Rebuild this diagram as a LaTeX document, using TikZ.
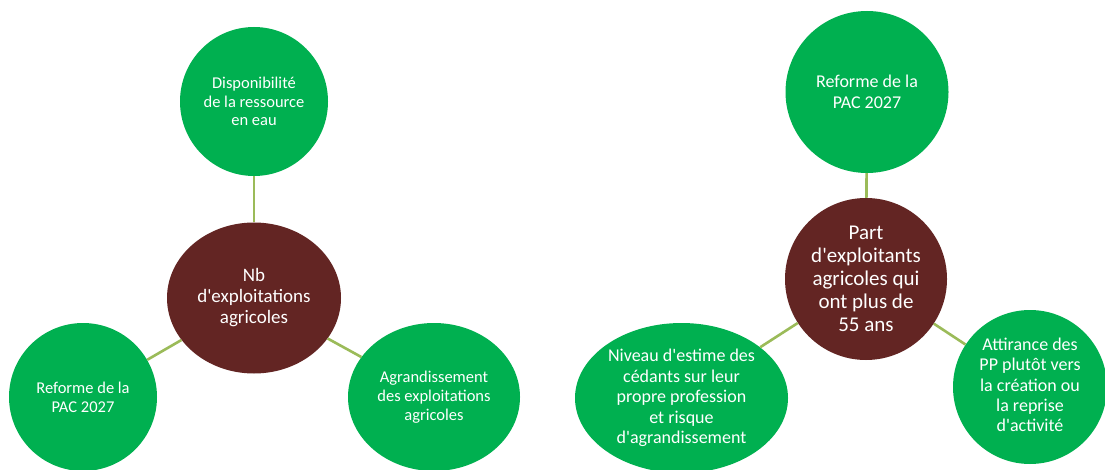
\documentclass[tikz,border=0pt]{standalone}
\usepackage{fontspec}
\setmainfont{Carlito}[Ligatures=TeXOff]
\usetikzlibrary{shapes.geometric}
\definecolor{cgreen}{HTML}{00B050}
\definecolor{cbrown}{HTML}{632523}
\definecolor{clink}{HTML}{9BBB59}
\begin{document}
\begin{tikzpicture}[x=1pt,y=-1pt,
  leaf/.style={ellipse, fill=cgreen, inner sep=0pt, align=center, text=white},
  hub/.style={ellipse, fill=cbrown, inner sep=0pt, align=center, text=white},
  smallleaf/.style={leaf, font=\fontsize{16.5}{18.8}\selectfont},
  bigleaf/.style={leaf, font=\fontsize{18}{20.4}\selectfont},
  link/.style={draw=clink, line width=2.6pt}]
\useasboundingbox (0,0) rectangle (1105,470);
\clip (0,0) rectangle (1105,470);
\fill[white] (0,0) rectangle (1105,470);

% left group
\node[hub, minimum width=174pt, minimum height=151pt, font=\fontsize{19}{21}\selectfont] (nb) at (254,298) {Nb\\d'exploitations\\agricoles};
\node[smallleaf, minimum width=148pt, minimum height=149pt] (eau) at (254,101.5) {Disponibilité\\de la ressource\\en eau};
\node[smallleaf, minimum width=148pt, minimum height=148pt] (pac1) at (83,397) {Reforme de la\\PAC 2027};
\node[smallleaf, minimum width=172pt, minimum height=148pt] (agr) at (434,397) {Agrandissement\\des exploitations\\agricoles};

% right group
\node[hub, minimum width=162pt, minimum height=162pt, font=\fontsize{21}{23}\selectfont] (part) at (866,279) {Part\\d'exploitants\\agricoles qui\\ont plus de\\55 ans};
\node[bigleaf, minimum width=163pt, minimum height=162pt] (pac2) at (867,92) {Reforme de la\\PAC 2027};
\node[bigleaf, minimum width=213pt, minimum height=150pt] (niv) at (681.5,398) {Niveau d'estime des\\cédants sur leur\\propre profession\\et risque\\d'agrandissement};
\node[bigleaf, minimum width=154pt, minimum height=154pt] (att) at (1030,387) {\raisebox{3pt}{\begin{tabular}{@{}c@{}}Attirance des\\PP plutôt vers\\la création ou\\la reprise\\d'activité\end{tabular}}};

% connectors
\draw[link] (eau) -- (nb);
\draw[link] (pac1) -- (nb);
\draw[link] (agr) -- (nb);
\draw[link] (pac2) -- (part);
\draw[link] (niv) -- (part);
\draw[link] (att) -- (part);
\end{tikzpicture}
\end{document}
